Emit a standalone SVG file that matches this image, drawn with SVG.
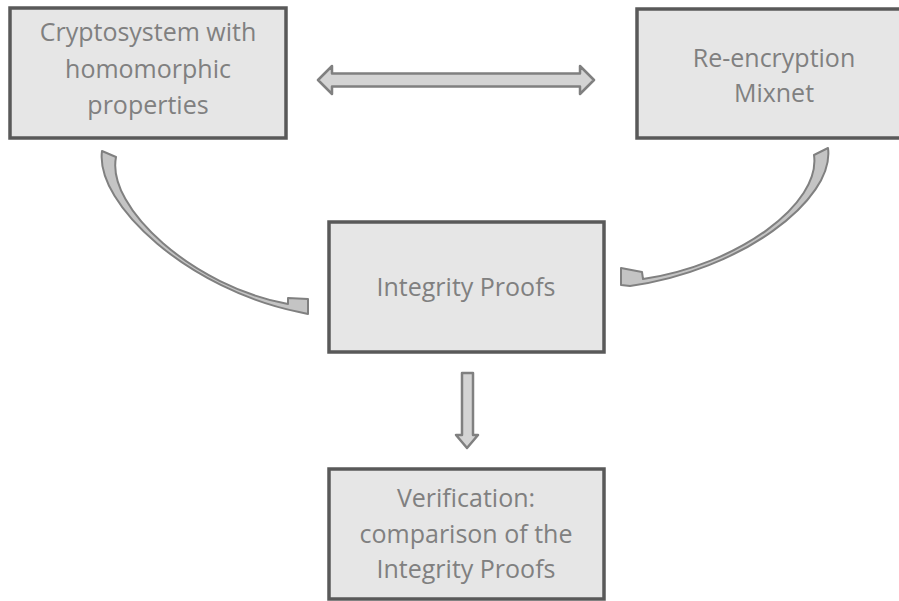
<svg xmlns="http://www.w3.org/2000/svg" width="899" height="601" viewBox="0 0 899 601">
  <style>
    .box { fill: #e6e6e6; stroke: #595959; stroke-width: 3.5; }
    .lbl { font-family: "Open Sans", "Noto Sans", "Liberation Sans", sans-serif; font-size: 25px; fill: #808080; text-anchor: middle; }
    .arrow { fill: #d4d4d4; stroke: #808080; stroke-width: 2.5; stroke-linejoin: round; }
    .curve { fill: #c4c4c4; stroke: #808080; stroke-width: 2; stroke-linejoin: round; }
  </style>
  <rect width="899" height="601" fill="#ffffff"/>

  <g id="connectors">
    <!-- two-way arrow between the cryptosystem and the mixnet -->
    <polygon class="arrow" points="318,80 332,66 332,73.5 580,73.5 580,66 594,80 580,94 580,86.5 332,86.5 332,94"/>
    <!-- curved arrow: cryptosystem to integrity proofs -->
    <path class="curve" d="M102,151 C95,205 190,290 299,312 L308,314 L308,299 L288,298 L288,304 C194,287 106,208 116,157 Z"/>
    <!-- curved arrow: mixnet to integrity proofs -->
    <path class="curve" d="M828,148 C835,200 740,271 630,286 L621,285 L621,268 L642,272 L643,279 C738,265 821,204 814,155 Z"/>
    <!-- down arrow: integrity proofs to verification -->
    <polygon class="arrow" points="462,373 473,373 473,435 478,435 467,448 456,435 462,435"/>
  </g>

  <g id="cryptosystem">
    <rect class="box" x="10" y="8" width="276" height="130"/>
    <text class="lbl" x="148" y="41">Cryptosystem with</text>
    <text class="lbl" x="148" y="78">homomorphic</text>
    <text class="lbl" x="148" y="114">properties</text>
  </g>

  <g id="mixnet">
    <rect class="box" x="637" y="9" width="275" height="129"/>
    <text class="lbl" x="774" y="67">Re-encryption</text>
    <text class="lbl" x="774" y="102">Mixnet</text>
  </g>

  <g id="integrity-proofs">
    <rect class="box" x="329" y="222" width="275" height="130"/>
    <text class="lbl" x="466" y="296">Integrity Proofs</text>
  </g>

  <g id="verification">
    <rect class="box" x="329" y="469" width="275" height="130"/>
    <text class="lbl" x="466" y="507">Verification:</text>
    <text class="lbl" x="466" y="543">comparison of the</text>
    <text class="lbl" x="466" y="578">Integrity Proofs</text>
  </g>
</svg>
